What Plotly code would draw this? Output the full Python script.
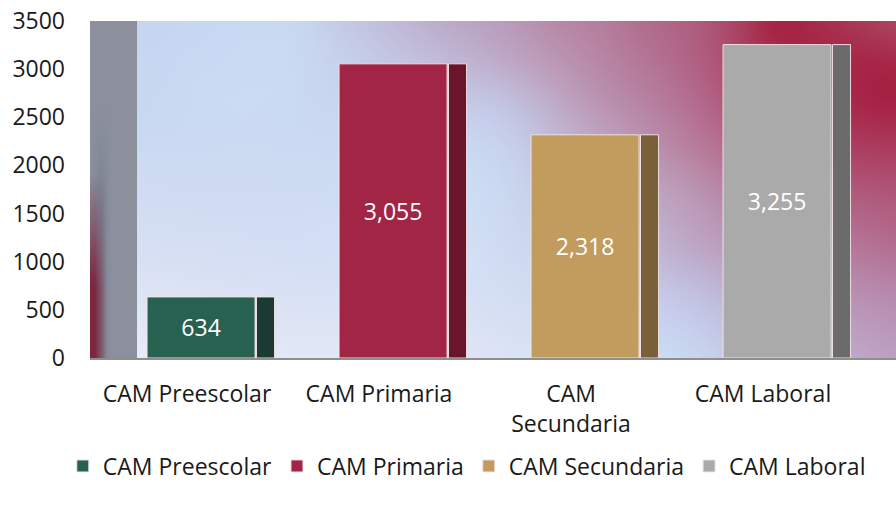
import base64
import struct
import zlib

import numpy as np
import plotly.graph_objects as go

# ---------------- data ----------------
categories = ["CAM Preescolar", "CAM Primaria", "CAM Secundaria", "CAM Laboral"]
tick_labels = ["CAM Preescolar", "CAM Primaria", "CAM<br>Secundaria", "CAM Laboral"]
values = [634, 3055, 2318, 3255]
front_colors = ["#296150", "#a32545", "#c29b5f", "#aaaaaa"]
side_colors = ["#1b3a31", "#6a1529", "#7a5f38", "#6b6b6b"]
y_ticks = [0, 500, 1000, 1500, 2000, 2500, 3000, 3500]

FONT = "Open Sans"
FS = 23
W, H = 896, 506
L, R, T, B = 90, 896, 21, 358   # plot area (pixels)
WALL_R = 137                    # right edge of the side wall (pixels)


# ---------------- decoration: background pictures ----------------
def png_uri(arr):
    h, w, _ = arr.shape
    raw = b"".join(b"\x00" + arr[r].tobytes() for r in range(h))

    def chunk(tag, data):
        return (struct.pack(">I", len(data)) + tag + data +
                struct.pack(">I", zlib.crc32(tag + data) & 0xFFFFFFFF))

    png = (b"\x89PNG\r\n\x1a\n" +
           chunk(b"IHDR", struct.pack(">IIBBBBB", w, h, 8, 2, 0, 0, 0)) +
           chunk(b"IDAT", zlib.compress(raw, 9)) + chunk(b"IEND", b""))
    return "data:image/png;base64," + base64.b64encode(png).decode()


# colour samples of the back wall (page pixel x, y, r, g, b)
bg_samples = np.array([
    (140, 22, 198, 213, 240), (300, 22, 200, 215, 240), (350, 22, 196, 200, 228),
    (400, 22, 192, 186, 216), (450, 22, 188, 170, 200), (500, 22, 186, 158, 190),
    (550, 22, 184, 140, 170), (600, 22, 182, 126, 158), (650, 22, 177, 108, 140),
    (700, 22, 174, 92, 124), (740, 22, 170, 66, 98), (775, 22, 166, 36, 68),
    (820, 22, 168, 46, 78), (860, 22, 170, 58, 88), (894, 22, 172, 70, 98),
    (894, 60, 168, 42, 74), (894, 95, 166, 34, 68), (894, 150, 172, 62, 96),
    (894, 200, 176, 90, 124), (894, 250, 180, 112, 146), (894, 300, 184, 140, 175),
    (894, 356, 188, 160, 195), (860, 356, 190, 166, 200),
    (690, 100, 180, 110, 145), (690, 150, 184, 130, 160), (690, 200, 188, 155, 185),
    (690, 250, 190, 170, 200), (690, 300, 196, 196, 228), (690, 356, 200, 215, 240),
    (600, 60, 184, 135, 165), (600, 100, 186, 148, 178),
    (500, 60, 190, 170, 200), (500, 100, 195, 195, 225), (500, 150, 200, 212, 238),
    (500, 250, 208, 220, 242), (500, 356, 220, 228, 245),
    (300, 150, 204, 218, 242), (300, 300, 218, 226, 245), (300, 356, 226, 232, 246),
    (140, 150, 204, 218, 242), (140, 356, 230, 236, 248),
], dtype=float)


def tps(r):
    with np.errstate(divide="ignore", invalid="ignore"):
        v = r * r * np.log(r)
    return np.nan_to_num(v)


ctr = bg_samples[:, :2] / 100.0
vals = bg_samples[:, 2:]
n = len(ctr)
d = np.sqrt(((ctr[:, None, :] - ctr[None, :, :]) ** 2).sum(-1))
K = tps(d) + 0.02 * np.eye(n)
P = np.hstack([np.ones((n, 1)), ctr])
A = np.zeros((n + 3, n + 3))
A[:n, :n] = K
A[:n, n:] = P
A[n:, :n] = P.T
rhs = np.vstack([vals, np.zeros((3, 3))])
coef = np.linalg.solve(A, rhs)

step = 3
gx = np.arange(WALL_R, R, step) + step / 2
gy = np.arange(T, B, step) + step / 2
GX, GY = np.meshgrid(gx, gy)
G = np.stack([GX.ravel(), GY.ravel()], -1) / 100.0
dg = np.sqrt(((G[:, None, :] - ctr[None, :, :]) ** 2).sum(-1))
out = tps(dg) @ coef[:n] + np.hstack([np.ones((len(G), 1)), G]) @ coef[n:]
bg_img = np.clip(out, 0, 255).reshape(len(gy), len(gx), 3).astype(np.uint8)
bg_uri = png_uri(bg_img)

# side wall (left)
wx = np.arange(L, WALL_R) + 0.5
wy = np.arange(T, B) + 0.5
WX, WY = np.meshgrid(wx, wy)
grey = np.array([139, 144, 156], float)
dark = np.array([116, 126, 146], float)
crim = np.array([125, 38, 64], float)
band = np.clip(1 - np.abs(WX - 101) / 10, 0, 1) * np.clip((WY - 110) / 90, 0, 1)
wall = grey * (1 - 0.7 * band[..., None]) + dark * (0.7 * band[..., None])
red = np.clip((WY - 175) / 110, 0, 1) * np.clip((107 - WX) / 12, 0, 1)
wall = wall * (1 - red[..., None]) + crim * red[..., None]
wall_uri = png_uri(np.clip(wall, 0, 255).astype(np.uint8))

pwid = R - L
wall_frac = (WALL_R - L) / pwid

# ---------------- figure ----------------
fig = go.Figure()
for cat, val, fc, sc in zip(categories, values, front_colors, side_colors):
    fig.add_trace(go.Bar(
        x=[cat], y=[val], name=cat, width=0.5625, offset=-0.208,
        marker=dict(color=fc, line=dict(color="rgba(240,228,232,0.95)", width=1)),
        texttemplate="%{y:,}", textposition="inside", insidetextanchor="middle",
        textangle=0, textfont=dict(color="white", size=FS, family=FONT),
        hoverinfo="x+y",
    ))
    fig.add_trace(go.Bar(
        x=[cat], y=[val], name=cat, width=0.094, offset=0.362,
        marker=dict(color=sc, line=dict(color="rgba(240,228,232,0.95)", width=1)),
        showlegend=False, hoverinfo="skip",
    ))

fig.update_layout(
    width=W, height=H,
    margin=dict(l=L, r=W - R, t=T, b=H - B, pad=0),
    barmode="overlay",
    paper_bgcolor="white",
    plot_bgcolor="rgba(0,0,0,0)",
    font=dict(family=FONT, size=FS, color="#1a1a1a"),
    images=[
        dict(source=bg_uri, xref="paper", yref="paper", x=wall_frac, y=1,
             sizex=1 - wall_frac, sizey=1, sizing="stretch", layer="below",
             xanchor="left", yanchor="top"),
        dict(source=wall_uri, xref="paper", yref="paper", x=0, y=1,
             sizex=wall_frac, sizey=1, sizing="stretch", layer="below",
             xanchor="left", yanchor="top"),
    ],
    xaxis=dict(
        type="category", categoryorder="array", categoryarray=categories,
        range=[(L - 187) / 192, (R - 187) / 192],
        tickmode="array", tickvals=categories, ticktext=tick_labels,
        showgrid=False, zeroline=False, showline=True,
        linecolor="#8e8e8e", linewidth=2, ticks="",
        ticklabelstandoff=14, automargin=False,
        tickfont=dict(size=FS, family=FONT, color="#1a1a1a"),
    ),
    yaxis=dict(
        range=[0, 3500], tickmode="array", tickvals=y_ticks,
        showgrid=False, zeroline=False, showline=False, ticks="",
        ticklabelstandoff=24, automargin=False,
        tickfont=dict(size=FS, family=FONT, color="#1a1a1a"),
    ),
    legend=dict(
        orientation="h", xref="container", yref="container",
        x=0.521, y=1 - 466 / H, xanchor="center", yanchor="middle",
        font=dict(size=FS, family=FONT, color="#1a1a1a"),
        bgcolor="rgba(0,0,0,0)",
    ),
    showlegend=True,
)

fig.write_html(
    "out.html",
    config={"displayModeBar": False},
    post_script="document.body.style.margin='0';document.body.style.overflow='hidden';",
)
